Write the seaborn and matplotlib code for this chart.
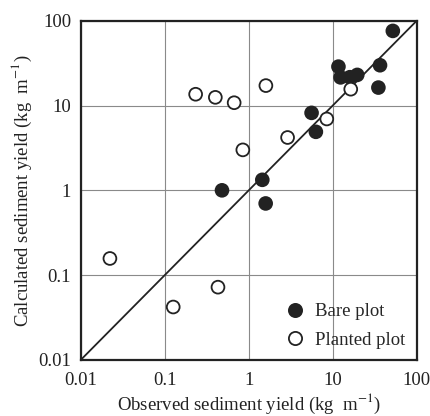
import matplotlib
matplotlib.use("Agg")
import matplotlib.pyplot as plt
import seaborn as sns
import pandas as pd
from matplotlib.lines import Line2D

# Data (kg m^-1)
bare_obs = [52, 11.7, 12.4, 16.0, 19.6, 36.6, 35.0, 5.6, 6.3, 1.45, 1.59, 0.48]
bare_calc = [76, 28.8, 21.5, 21.6, 23.0, 29.9, 16.3, 8.2, 4.9, 1.33, 0.70, 1.0]
plant_obs = [0.0222, 0.126, 0.43, 0.233, 0.40, 0.67, 0.85, 1.6, 2.9, 8.5, 16.4]
plant_calc = [0.157, 0.042, 0.072, 13.6, 12.5, 10.8, 3.0, 17.2, 4.2, 6.95, 15.6]
labels = ["Bare plot", "Planted plot"]
ticks = [0.01, 0.1, 1, 10, 100]
tick_labels = ["0.01", "0.1", "1", "10", "100"]

df = pd.DataFrame({
    "obs": bare_obs + plant_obs,
    "calc": bare_calc + plant_calc,
    "type": [labels[0]] * len(bare_obs) + [labels[1]] * len(plant_obs),
})

sns.set_style("white")
plt.rcParams["font.family"] = ["Liberation Serif", "DejaVu Serif"]
plt.rcParams["mathtext.fontset"] = "stix"

fig = plt.figure(figsize=(4.30, 4.16), dpi=100)
ax = fig.add_axes([0.188, 0.135, 0.781, 0.815])

ax.set_xscale("log")
ax.set_yscale("log")
ax.set_xlim(0.01, 100)
ax.set_ylim(0.01, 100)

ax.grid(True, which="major", color="#8a8a8a", linewidth=0.8)
ax.set_axisbelow(True)

ax.plot([0.01, 100], [0.01, 100], color="#222222", linewidth=1.3, zorder=2)

sns.scatterplot(data=df, x="obs", y="calc", hue="type", style="type",
                palette={labels[0]: "#222222", labels[1]: "white"},
                markers={labels[0]: "o", labels[1]: "o"},
                edgecolor="#222222", linewidth=1.3, s=85, ax=ax, zorder=3,
                legend=False)

handles = [
    Line2D([], [], marker="o", linestyle="none", markersize=9.5,
           markerfacecolor="#222222", markeredgecolor="#222222", markeredgewidth=1.3),
    Line2D([], [], marker="o", linestyle="none", markersize=9.5,
           markerfacecolor="white", markeredgecolor="#222222", markeredgewidth=1.3),
]
ax.legend(handles, labels, loc="lower right", frameon=False, fontsize=13.5,
          handletextpad=0.05, borderaxespad=0.2, labelspacing=0.6,
          bbox_to_anchor=(1.0, 0.0))

ax.set_xticks(ticks)
ax.set_xticklabels(tick_labels)
ax.set_yticks(ticks)
ax.set_yticklabels(tick_labels)
ax.minorticks_off()
ax.tick_params(axis="both", which="both", length=0, labelsize=13.5, colors="#222222")
ax.tick_params(axis="x", pad=9)
ax.tick_params(axis="y", pad=7)

for sp in ax.spines.values():
    sp.set_visible(True)
    sp.set_color("#222222")
    sp.set_linewidth(1.6)

ax.set_xlabel("Observed sediment yield (kg  m$^{-1}$)", fontsize=13.5, color="#222222", labelpad=2)
ax.set_ylabel("Calculated sediment yield (kg  m$^{-1}$)", fontsize=13.5, color="#222222", labelpad=3)

fig.savefig("out.png", dpi=100)
